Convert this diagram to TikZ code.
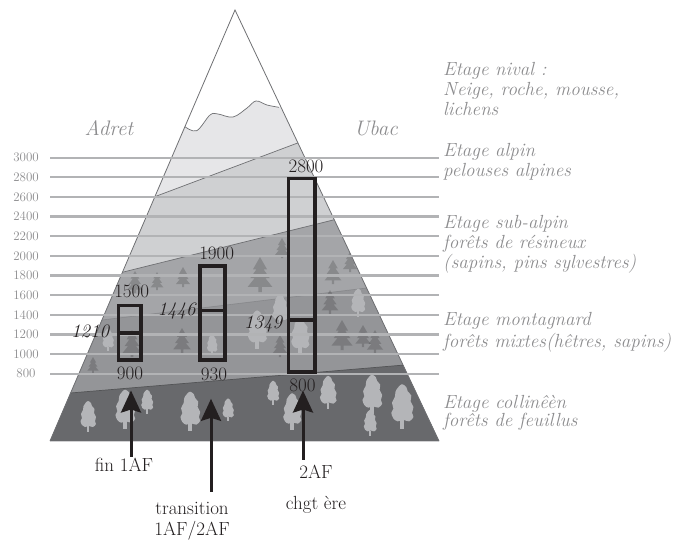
\documentclass[tikz,border=0pt]{standalone}
\usepackage{fontspec}
\usetikzlibrary{arrows.meta}
\definecolor{nival}{HTML}{E6E6E8}
\definecolor{alpin}{HTML}{CFD0D2}
\definecolor{subalpin}{HTML}{A4A5A8}
\definecolor{montagnard}{HTML}{949598}
\definecolor{collineen}{HTML}{68696C}
\definecolor{arbre}{HTML}{B4B5B8}
\definecolor{bord}{HTML}{6F7073}
\definecolor{trait}{HTML}{B2B3B5}
\definecolor{gris}{HTML}{8C8C8E}
\definecolor{noir}{HTML}{231F20}
\begin{document}
\begin{tikzpicture}[x=1pt,y=-1pt,
  etage/.style={draw=bord,line width=0.7pt},
  niveau/.style={draw=trait,line width=2.2pt},
  boite/.style={draw=noir,line width=3.6pt},
  fleche/.style={-{Stealth[length=22pt,width=20pt,inset=3pt]},draw=noir,line width=3pt},
  legende/.style={font=\fontsize{19}{20}\selectfont\itshape,text=gris,align=left,anchor=base west,inner sep=0pt},
  alti/.style={font=\fontsize{13}{15}\selectfont,text=gris,inner sep=0pt},
  nombre/.style={font=\fontsize{19}{21}\selectfont,text=noir,anchor=base,inner sep=0pt},
  bas/.style={font=\fontsize{19}{21}\selectfont,text=noir,align=center,anchor=base,inner sep=0pt},
  sapin/.pic={\fill[black,fill opacity=.17] (-1,0) -- (-1,-3) -- (-7,-3) -- (-3,-8) -- (-5.5,-8) -- (-2,-13) -- (-4,-13) -- (0,-20) -- (4,-13) -- (2,-13) -- (5.5,-8) -- (3,-8) -- (7,-3) -- (1,-3) -- (1,0) -- cycle;},
  feuillu/.pic={\fill[arbre] (-1.3,0) rectangle (1.3,-6);
    \fill[arbre] plot[smooth cycle,tension=.55] coordinates {(0,-31) (3,-29) (4,-26) (6.5,-23) (6,-19) (8,-15) (7,-11) (8,-8) (5,-5) (1,-6) (-3,-5) (-6,-7) (-7.5,-11) (-6,-14) (-7,-18) (-5,-22) (-4.5,-26) (-2.5,-29)};}]
\useasboundingbox (0,0) rectangle (680,542);
\coordinate (sommet) at (235,10);
\coordinate (gauche) at (50,441);
\coordinate (droite) at (439,441);
% la montagne
\begin{scope}
\clip (sommet) -- (droite) -- (gauche) -- cycle;
\fill[white] (0,0) rectangle (680,542);
\fill[nival] (150,127) -- plot[smooth,tension=.6] coordinates {(185,126.7) (196.7,130.7) (210,115) (218,114) (233,117) (247,108) (256,101) (267,105) (279,107.3)} -- (700,107) -- (700,542) -- (0,542) -- cycle;
\draw[etage] plot[smooth,tension=.6] coordinates {(185,126.7) (196.7,130.7) (210,115) (218,114) (233,117) (247,108) (256,101) (267,105) (279,107.3)};
\fill[alpin] (0,254.9) -- (680,-0.8) -- (680,542) -- (0,542) -- cycle;
\fill[subalpin] (0,302.6) -- (680,134) -- (680,542) -- (0,542) -- cycle;
\fill[montagnard] (0,332.3) -- (680,250.1) -- (680,542) -- (0,542) -- cycle;
\fill[collineen] (0,398.9) -- (680,341.9) -- (680,542) -- (0,542) -- cycle;
\draw[etage] (0,254.9) -- (680,-0.8);
\draw[etage] (0,302.6) -- (680,134);
\draw[etage,draw opacity=.4] (0,332.3) -- (680,250.1);
\draw[etage,draw=collineen!80!black] (0,398.9) -- (680,341.9);
% arbres
\foreach \x/\y/\s in {183/287/1, 260/292/1.75, 282/258/1, 135/293/1.1, 157/290/.9, 333/284/1.2, 350/272/1,
  93/373/.8, 132/357/1.35, 182/353/1.25, 280/357/1.1, 330/314/1.2, 342/350/1.5, 363/347/1.1, 375/353/1.15}
  \pic[scale=\s] at (\x,\y) {sapin};
\foreach \x/\y/\s in {88/432/1, 125/429/1.27, 147/413.5/.77, 190/431/1.27, 228/421/.73, 273/404.5/.77,
  292/429.5/1.17, 328/409/1.07, 372/414/1.27, 370/435.5/.83, 402/428.5/1.43,
  108/351/.73, 212/355/.67, 257/348.5/1.23, 280/325/1, 300/354/1.17, 358/316.5/.9}
  \pic[scale=\s] at (\x,\y) {feuillu};
\end{scope}
\draw[bord,line width=0.8pt] (gauche) -- (sommet) -- (droite);
% altitudes
\foreach \alt in {800,1000,...,3000}{
  \pgfmathsetmacro\yy{373.7-(\alt-800)*0.0982}
  \draw[niveau] (50,\yy) -- (439,\yy);
  \node[alti] (alt\alt) at (26,\yy) {\alt};
}
\node[legende,font=\fontsize{21}{23}\selectfont\itshape,anchor=base] (adret) at (109,135) {Adret};
\node[legende,font=\fontsize{21}{23}\selectfont\itshape,anchor=base] (ubac) at (376,135) {Ubac};
% etages (base = derniere ligne)
\node[legende] (nival) at (443,115) {Etage nival :\\Neige, roche, mousse,\\lichens};
\node[legende] (alpin) at (443,176) {Etage alpin\\pelouses alpines};
\node[legende] (subalpin) at (443,268.3) {Etage sub-alpin\\forêts de résineux\\(sapins, pins sylvestres)};
\node[legende] (montagnard) at (443,347.3) {Etage montagnard\\[1.5pt]forêts mixtes(hêtres, sapins)};
\node[legende] (collineen) at (443,426.7) {Etage collinêèn\\[-1.5pt]forêts de feuillus};
% boites
\draw[boite] (118.5,305.5) rectangle (141,360);
\draw[boite] (118.5,332.7) -- (141,332.7);
\draw[boite] (200,266) rectangle (225,360);
\draw[boite] (200,310.5) -- (225,310.5);
\draw[boite] (288.5,178.5) rectangle (315,372);
\draw[boite] (288.5,320) -- (315,320);
\node[nombre] (n1500) at (131.7,297) {1500};
\node[nombre] (n900) at (130,379.3) {900};
\node[nombre,font=\fontsize{19}{21}\selectfont\itshape] (n1210) at (90,337) {1210};
\node[nombre] (n1900) at (216.7,259.3) {1900};
\node[nombre] (n930) at (214,380) {930};
\node[nombre,font=\fontsize{19}{21}\selectfont\itshape] (n1446) at (176.7,315) {1446};
\node[nombre] (n2800) at (306,172.7) {2800};
\node[nombre] (n800) at (302.5,391.7) {800};
\node[nombre,font=\fontsize{19}{21}\selectfont\itshape] (n1349) at (263,328.3) {1349};
% fleches
\node[bas] (fin) at (124,471.7) {fin 1AF};
\node[bas] (transition) at (192,535) {transition\\1AF/2AF};
\node[bas] (chgt) at (316,509.5) {2AF\\[10pt]chgt ère};
\draw[fleche,shorten <=1.5pt,shorten >=10.7pt] (fin.north -| 131,0) -- (131,0 |- n900.south);
\draw[fleche,shorten <=9.6pt,shorten >=18.3pt] (transition.north -| 211,0) -- (211,0 |- n930.south);
\draw[fleche,shorten <=5.3pt,shorten >=-1.7pt] (chgt.north -| 303,0) -- (303,0 |- n800.south);
\end{tikzpicture}
\end{document}
